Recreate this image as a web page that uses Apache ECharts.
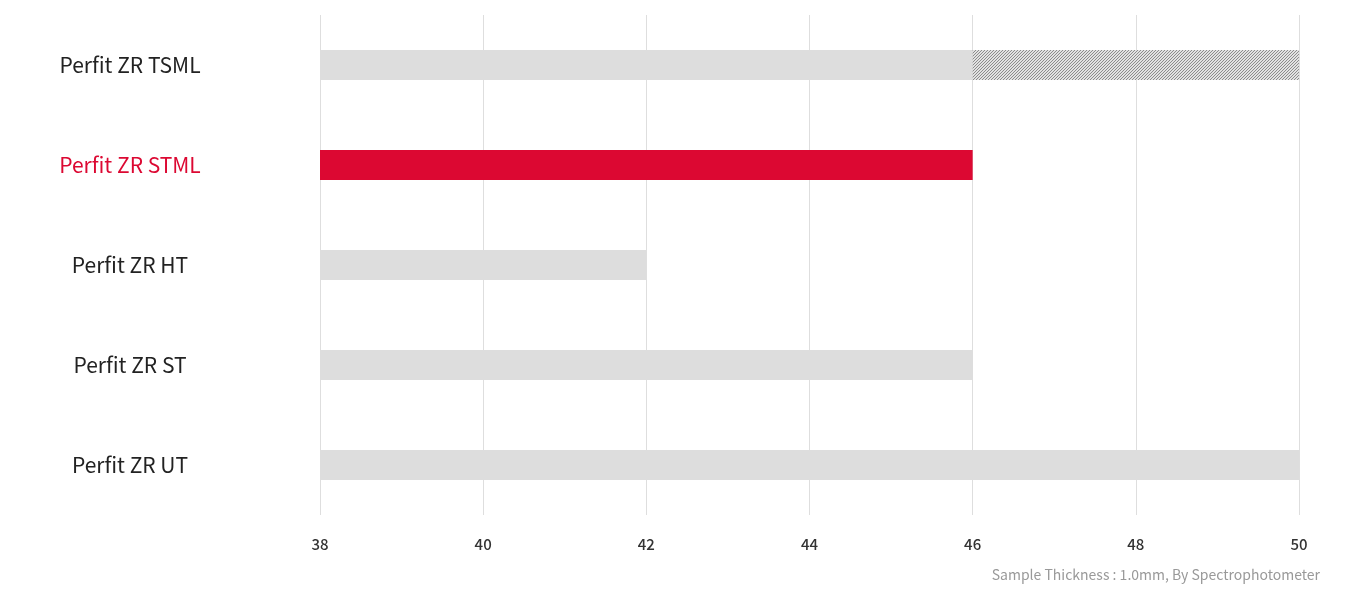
<!DOCTYPE html>
<html><head><meta charset="utf-8">
<script src="https://cdn.jsdelivr.net/npm/echarts@6/dist/echarts.min.js"></script>
<style>html,body{margin:0;padding:0;background:#fff}#c{width:1365px;height:609px}</style>
</head><body><div id="c"></div>
<script>
const categories = ['Perfit ZR UT', 'Perfit ZR ST', 'Perfit ZR HT', 'Perfit ZR STML', 'Perfit ZR TSML'];
const baseValues = [50, 46, 42, 46, 46];
const extraValues = [null, null, null, null, 4];
const highlight = 'Perfit ZR STML';
const xTicks = [38, 40, 42, 44, 46, 48, 50];

function hatch() {
  const c = document.createElement('canvas');
  c.width = 3; c.height = 3;
  const g = c.getContext('2d');
  g.fillStyle = '#e2e2e2'; g.fillRect(0, 0, 3, 3);
  g.fillStyle = '#8c8c8c';
  g.fillRect(2, 0, 1, 1); g.fillRect(1, 1, 1, 1); g.fillRect(0, 2, 1, 1);
  return c;
}

const FONT = 'Noto Sans CJK KR';
const chart = echarts.init(document.getElementById('c'));
chart.setOption({
  animation: false,
  grid: { left: 320, right: 66, top: 15, bottom: 94, containLabel: false },
  xAxis: {
    type: 'value', min: xTicks[0], max: xTicks[xTicks.length - 1], interval: 2,
    axisLine: { show: false }, axisTick: { show: false },
    splitLine: { lineStyle: { color: '#dedede', width: 1 } },
    axisLabel: { margin: 22, fontSize: 15, color: '#333', fontFamily: FONT, fontWeight: 500 }
  },
  yAxis: {
    type: 'category', data: categories,
    axisLine: { show: false }, axisTick: { show: false },
    axisLabel: {
      margin: 190, align: 'center', fontSize: 21, fontFamily: FONT, fontWeight: 400,
      color: v => v === highlight ? '#dc0832' : '#222'
    }
  },
  series: [
    {
      type: 'bar', stack: 's', barWidth: 30, silent: true,
      data: baseValues.map((v, i) => ({
        value: v,
        itemStyle: { color: categories[i] === highlight ? '#dc0832' : '#dddddd' }
      }))
    },
    {
      type: 'bar', stack: 's', barWidth: 30, silent: true,
      itemStyle: { color: { image: hatch(), repeat: 'repeat' } },
      data: extraValues
    }
  ],
  graphic: [{
    type: 'text', right: 45, top: 568,
    style: { text: 'Sample Thickness : 1.0mm, By Spectrophotometer', fill: '#999', fontSize: 14, fontFamily: FONT }
  }]
});
</script></body></html>
